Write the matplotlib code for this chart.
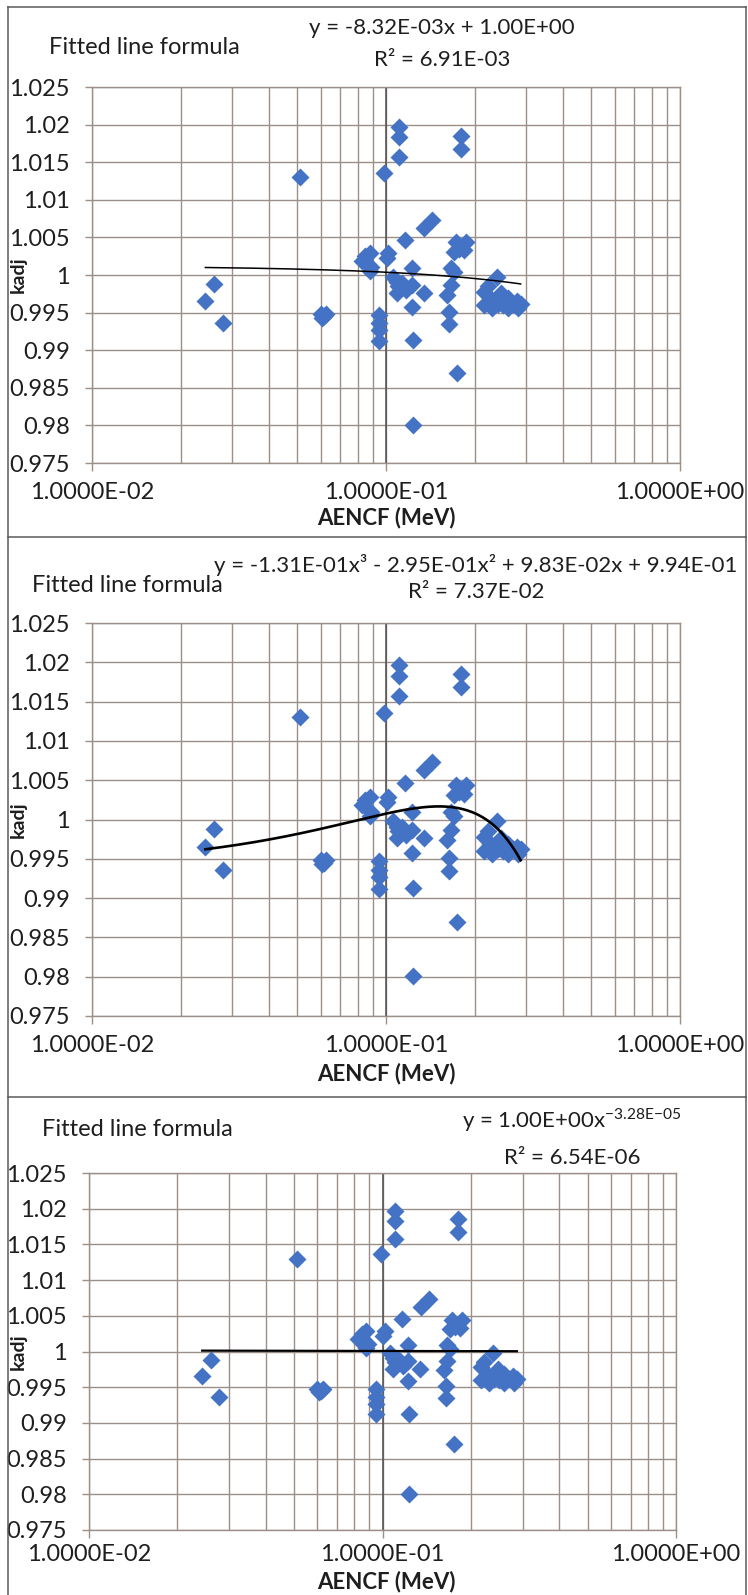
import numpy as np
import matplotlib.pyplot as plt
from matplotlib.lines import Line2D
from matplotlib.ticker import FixedLocator, FixedFormatter, NullFormatter

plt.rcParams['font.family'] = ['Lato', 'DejaVu Sans']

W, H = 748, 1595

# measured points (same set in every panel)
aencf = [0.1105, 0.1105, 0.1105, 0.0985, 0.0511, 0.1805, 0.1805, 0.1435, 0.1351, 0.1162,
         0.1726, 0.1868, 0.1773, 0.1019, 0.0879, 0.0828, 0.0879, 0.0261, 0.0243, 0.0278,
         0.0600, 0.0615, 0.0625, 0.0608, 0.0950, 0.0950, 0.0950, 0.0950, 0.1088, 0.1088,
         0.1060, 0.1225, 0.1225, 0.1344, 0.1225, 0.1235, 0.1235, 0.1703, 0.1660, 0.1617,
         0.1640, 0.1640, 0.1749, 0.2388, 0.2160, 0.2160, 0.2405, 0.2600, 0.2600, 0.2780,
         0.2870, 0.2470, 0.2263, 0.1100, 0.1130, 0.1170, 0.0850, 0.0890, 0.1005, 0.1700,
         0.1840, 0.2215, 0.2500, 0.2706, 0.2300, 0.2810, 0.1660]
kadj = [1.0197, 1.0183, 1.0157, 1.0136, 1.0130, 1.0185, 1.0168, 1.0073, 1.0063, 1.0046,
        1.0044, 1.0044, 1.0035, 1.0029, 1.0029, 1.0018, 1.0005, 0.9988, 0.9965, 0.9936,
        0.9948, 0.9945, 0.9948, 0.9943, 0.9947, 0.9936, 0.9927, 0.9912, 0.9991, 0.9976,
        0.9998, 1.0009, 0.9987, 0.9976, 0.9958, 0.9913, 0.9801, 1.0004, 0.9987, 0.9974,
        0.9951, 0.9935, 0.9870, 0.9998, 0.9978, 0.9960, 0.9962, 0.9969, 0.9956, 0.9965,
        0.9962, 0.9976, 0.9969, 0.9985, 0.9990, 0.9980, 1.0025, 1.0010, 1.0022, 1.0031,
        1.0033, 0.9985, 0.9960, 0.9962, 0.9956, 0.9956, 1.0009]

# trendline coefficients
lin_slope, lin_icpt = -8.32e-03, 1.0012
cub = [-1.31e-01, -2.95e-01, 9.83e-02, 9.94e-01]
pow_a, pow_b = 1.00, -3.28e-05

eq_labels = ['y = -8.32E-03x + 1.00E+00',
             'y = -1.31E-01x³ - 2.95E-01x² + 9.83E-02x + 9.94E-01',
             r'y = 1.00E+00x$^{\mathregular{{-}3.28E{-}05}}$']
r2_labels = ['R² = 6.91E-03', 'R² = 7.37E-02', 'R² = 6.54E-06']

yticks = [0.975, 0.98, 0.985, 0.99, 0.995, 1.0, 1.005, 1.01, 1.015, 1.02, 1.025]
xticks = [0.01, 0.1, 1.0]
xticklabels = ['1.0000E-02', '1.0000E-01', '1.0000E+00']

grid_c = '#9c8f87'
blue = '#4472c4'
txt_c = '#1e1e1e'


def fx(px):
    return px / W


def fy(py):
    return 1 - py / H


# pixel layout of each panel
panels = [
    dict(x0=92, x1=680, top=87, bot=463, eq=(442, 28), r2=(442, 60), fit=(49, 47),
         xl=518, pad=8, lw=1.1),
    dict(x0=92, x1=680, top=623, bot=1016, eq=(476, 565), r2=(476, 592), fit=(32, 585),
         xl=1074, pad=8, lw=1.9),
    dict(x0=89, x1=676, top=1173, bot=1530, eq=(572, 1120), r2=(572, 1158), fit=(42, 1130),
         xl=1582, pad=4, lw=1.6),
]

fig = plt.figure(figsize=(W / 100, H / 100), dpi=100)

xs = np.logspace(np.log10(min(aencf)), np.log10(max(aencf)), 300)
fits = [lin_slope * xs + lin_icpt,
        np.polyval(cub, xs),
        pow_a * xs ** pow_b]

for i, p in enumerate(panels):
    ax = fig.add_axes([fx(p['x0']), fy(p['bot']), fx(p['x1']) - fx(p['x0']),
                       (p['bot'] - p['top']) / H])
    ax.set_xscale('log')
    ax.set_xlim(0.01, 1)
    ax.set_ylim(0.975, 1.025)

    ax.yaxis.set_major_locator(FixedLocator(yticks))
    ax.yaxis.set_major_formatter(FixedFormatter([f'{v:g}' for v in yticks]))
    ax.xaxis.set_major_locator(FixedLocator(xticks))
    ax.xaxis.set_major_formatter(FixedFormatter(xticklabels))
    ax.xaxis.set_minor_locator(FixedLocator([m * 10.0 ** e for e in (-2, -1) for m in range(2, 10)]))
    ax.xaxis.set_minor_formatter(NullFormatter())

    ax.tick_params(axis='y', direction='out', length=5, width=1, color=grid_c,
                   pad=11, labelsize=17, labelcolor=txt_c)
    ax.tick_params(axis='x', which='major', direction='out', length=6, width=1,
                   color=grid_c, pad=p['pad'], labelsize=17, labelcolor=txt_c)
    ax.tick_params(axis='x', which='minor', length=0)

    ax.set_axisbelow(True)
    ax.grid(True, which='both', axis='x', color=grid_c, lw=1)
    ax.grid(True, which='major', axis='y', color=grid_c, lw=1)
    for s in ax.spines.values():
        s.set_color(grid_c)
        s.set_linewidth(1)

    # value axis crosses at 0.1
    ax.axvline(0.1, color='#505050', lw=1.1, zorder=1.5)
    ax.xaxis.get_major_ticks()[1].tick1line.set_color('#505050')

    ax.plot(aencf, kadj, linestyle='none', marker='D', ms=9.6, color=blue,
            mec='none', zorder=3)
    ax.plot(xs, fits[i], color='black', lw=p['lw'], zorder=4)

    fig.text(fx(p['fit'][0]), fy(p['fit'][1]), 'Fitted line formula', ha='left',
             va='center', fontsize=17, color=txt_c)
    fig.text(fx(p['eq'][0]), fy(p['eq'][1]), eq_labels[i], ha='center',
             va='center', fontsize=16, color=txt_c)
    fig.text(fx(p['r2'][0]), fy(p['r2'][1]), r2_labels[i], ha='center',
             va='center', fontsize=16, color=txt_c)
    fig.text(fx(386), fy(p['xl']), 'AENCF (MeV)', ha='center', va='center',
             fontsize=16, fontweight='bold', color=txt_c)
    fig.text(fx(18), fy((p['top'] + p['bot']) / 2), 'kadj', ha='center', va='center',
             rotation=90, fontsize=14, fontweight='bold', color=txt_c)

# outer frame and panel separators
frame_c = '#5a5a5a'
for (xa, ya, xb, yb) in [(8, 7, 746, 7), (8, 7, 8, H), (746, 7, 746, H),
                         (8, 537, 746, 537), (8, 1097, 746, 1097)]:
    fig.add_artist(Line2D([fx(xa), fx(xb)], [fy(ya), fy(yb)], color=frame_c, lw=1.1))

fig.savefig('out.png', dpi=100)
